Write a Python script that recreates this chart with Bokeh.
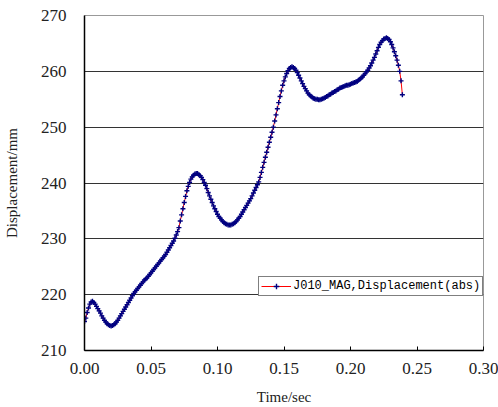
from bokeh.plotting import figure
from bokeh.models import FixedTicker, NumeralTickFormatter, ColumnDataSource
from bokeh.embed import file_html
from bokeh.resources import INLINE

# time in seconds (1 ms sampling), displacement in mm
time_ms = list(range(0, 240))
displacement = [
    215.2, 215.8, 216.8, 217.6, 218.3, 218.7, 218.8, 218.6, 218.3, 217.9,
    217.5, 217.1, 216.7, 216.2, 215.8, 215.4, 215.1, 214.8, 214.6, 214.5,
    214.4, 214.5, 214.6, 214.8, 215.1, 215.4, 215.8, 216.2, 216.6, 217.0,
    217.4, 217.8, 218.2, 218.6, 219.0, 219.4, 219.8, 220.2, 220.5, 220.8,
    221.1, 221.4, 221.7, 222.0, 222.3, 222.6, 222.8, 223.0, 223.3, 223.6,
    223.9, 224.2, 224.5, 224.8, 225.1, 225.4, 225.7, 226.0, 226.3, 226.6,
    226.9, 227.2, 227.6, 228.0, 228.4, 228.8, 229.2, 229.6, 230.1, 230.7,
    231.3, 232.0, 233.2, 234.3, 235.4, 236.5, 237.6, 238.6, 239.4, 240.1,
    240.7, 241.1, 241.4, 241.6, 241.7, 241.7, 241.5, 241.3, 241.0, 240.6,
    240.1, 239.6, 239.0, 238.3, 237.7, 237.1, 236.5, 235.9, 235.4, 234.9,
    234.4, 234.0, 233.7, 233.4, 233.1, 232.9, 232.7, 232.6, 232.5, 232.5,
    232.5, 232.6, 232.7, 232.9, 233.1, 233.4, 233.7, 234.0, 234.4, 234.8,
    235.2, 235.6, 236.0, 236.4, 236.8, 237.2, 237.7, 238.2, 238.7, 239.2,
    239.7, 240.2, 241.0, 241.9, 242.8, 243.7, 244.6, 245.5, 246.4, 247.3,
    248.2, 249.1, 250.0, 251.1, 252.2, 253.3, 254.4, 255.5, 256.5, 257.5,
    258.3, 259.0, 259.6, 260.1, 260.5, 260.7, 260.8, 260.7, 260.5, 260.2,
    259.8, 259.3, 258.8, 258.3, 257.8, 257.3, 256.9, 256.5, 256.1, 255.8,
    255.6, 255.4, 255.2, 255.1, 255.0, 255.0, 254.9, 254.9, 255.0, 255.1,
    255.2, 255.3, 255.5, 255.6, 255.8, 255.9, 256.1, 256.2, 256.4, 256.5,
    256.7, 256.8, 257.0, 257.1, 257.2, 257.3, 257.4, 257.5, 257.5, 257.6,
    257.7, 257.8, 257.9, 258.0, 258.1, 258.2, 258.4, 258.6, 258.8, 259.0,
    259.3, 259.6, 259.9, 260.2, 260.6, 261.0, 261.5, 262.0, 262.5, 263.1,
    263.7, 264.3, 264.8, 265.2, 265.5, 265.8, 265.9, 266.0, 265.9, 265.7,
    265.3, 264.8, 264.2, 263.5, 262.8, 262.0, 261.1, 260.0, 258.3, 255.8,
]
time_sec = [t / 1000.0 for t in time_ms]

x_ticks = [0.00, 0.05, 0.10, 0.15, 0.20, 0.25, 0.30]
y_ticks = [210, 220, 230, 240, 250, 260, 270]
series_label = "J010_MAG,Displacement(abs)"

src = ColumnDataSource(data=dict(t=time_sec, d=displacement))

p = figure(width=498, height=407, output_backend="svg", toolbar_location=None,
           x_range=(0.0, 0.30), y_range=(210, 270),
           min_border_left=82, min_border_right=15, min_border_top=15,
           min_border_bottom=56)

p.line("t", "d", source=src, line_color="#FF0000", line_width=1,
       legend_label=series_label)
p.scatter("t", "d", source=src, marker="cross", size=5, line_color="#000080",
          line_width=1.4, legend_label=series_label)

serif = "Liberation Serif"
p.xaxis.ticker = FixedTicker(ticks=x_ticks)
p.yaxis.ticker = FixedTicker(ticks=y_ticks)
p.xaxis.formatter = NumeralTickFormatter(format="0.00")
p.xaxis.axis_label = "Time/sec"
p.yaxis.axis_label = "Displacement/mm"
for ax in (p.xaxis, p.yaxis):
    ax.major_label_text_font = serif
    ax.major_label_text_font_size = "17px"
    ax.major_label_text_color = "#222222"
    ax.axis_label_text_font = serif
    ax.axis_label_text_font_size = "15px"
    ax.axis_label_text_font_style = "normal"
    ax.axis_label_text_color = "#222222"
    ax.axis_line_color = "#000000"
    ax.axis_line_width = 1.5
    ax.minor_tick_line_color = None
p.xaxis.major_tick_in = 4
p.xaxis.major_tick_out = 0
p.xaxis.major_tick_line_color = "#000000"
p.xaxis.major_label_standoff = 12
p.xaxis.axis_label_standoff = 12
p.yaxis.major_tick_line_color = None
p.yaxis.major_label_standoff = 12
p.yaxis.axis_label_standoff = 18

p.xgrid.grid_line_color = None
p.ygrid.grid_line_color = "#333333"
p.ygrid.grid_line_width = 1.2
p.outline_line_color = "#999999"
p.outline_line_width = 1
p.background_fill_color = "white"
p.border_fill_color = "white"

lg = p.legend[0]
lg.location = (174, 54)
lg.label_text_font = "Liberation Mono"
lg.label_text_font_size = "12px"
lg.label_text_color = "#000000"
lg.border_line_color = "#000000"
lg.border_line_width = 1
lg.background_fill_alpha = 1
lg.padding = 2
lg.margin = 0
lg.glyph_width = 30
lg.glyph_height = 14
lg.label_standoff = 2
lg.label_height = 14

open("out.html", "w").write(file_html(p, INLINE))
